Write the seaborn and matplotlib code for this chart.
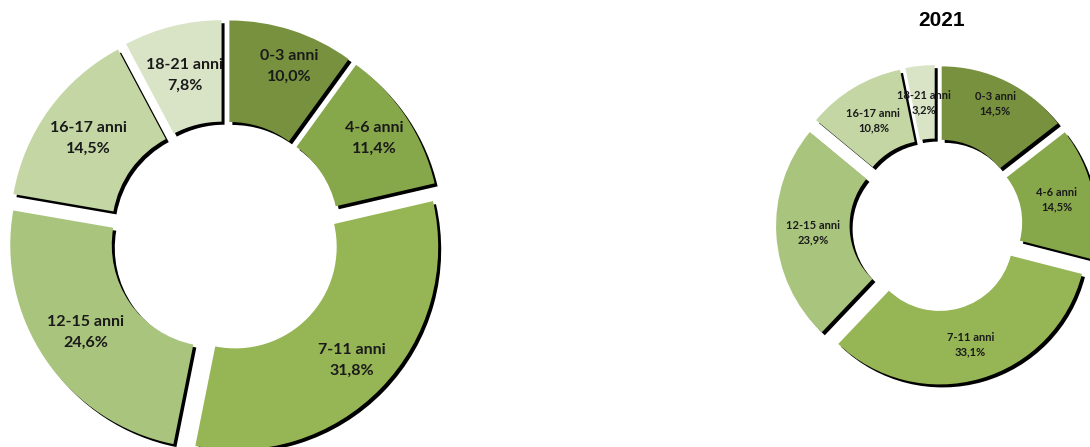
import math
import matplotlib
matplotlib.use("Agg")
import matplotlib.pyplot as plt
import seaborn as sns

# ---- data ----
categories = ["0-3 anni", "4-6 anni", "7-11 anni", "12-15 anni", "16-17 anni", "18-21 anni"]
values_left = [10.0, 11.4, 31.8, 24.6, 14.5, 7.8]
values_2021 = [14.5, 14.5, 33.1, 23.9, 10.8, 3.2]
title_right = "2021"

colors_hex = ["#77913F", "#87A84A", "#96B554", "#A9C47D", "#C3D6A4", "#D9E4C6"]

# label placement (fraction of radius, angular nudge in degrees) per wedge
label_dist_left = [0.83, 0.81, 0.80, 0.76, 0.76, 0.75]
label_nudge_left = [-3, 0, 0, 0, 0, 0]
label_dist_right = [0.83, 0.75, 0.76, 0.75, 0.74, 0.75]
label_nudge_right = [0, 0, 0, 0, 0, 0]

sns.set_style("white")
plt.rcParams["font.family"] = ["Lato", "DejaVu Sans"]
palette = sns.color_palette(colors_hex)

W, H = 1090, 447
fig = plt.figure(figsize=(W / 100, H / 100), dpi=100)
ax = fig.add_axes([0, 0, 1, 1])


def fmt(v):
    return f"{v:.1f}%".replace(".", ",")


def donut(vals, center, radius, explode_frac, fontsize, ldist, lnudge, lspacing, shadow_off=3):
    labels = [f"{c}\n{fmt(v)}" for c, v in zip(categories, vals)]
    # matplotlib's explode offset is in data units, so scale by radius
    explode = [explode_frac * radius] * len(vals)
    width = radius * 0.5
    # shadow
    ax.pie(vals, explode=explode, startangle=90, counterclock=False,
           center=(center[0] + shadow_off, center[1] - shadow_off), radius=radius,
           colors=["black"] * len(vals),
           wedgeprops=dict(width=width, linewidth=0))
    wedges, texts = ax.pie(vals, labels=labels, explode=explode, startangle=90,
                           counterclock=False, center=center, radius=radius,
                           colors=palette, labeldistance=0.77,
                           wedgeprops=dict(width=width, linewidth=0),
                           textprops=dict(ha="center", va="center",
                                          multialignment="center",
                                          fontsize=fontsize, fontweight="bold",
                                          color="#1a1a1a", linespacing=lspacing))
    for w, t, d, n in zip(wedges, texts, ldist, lnudge):
        th = math.radians(0.5 * (w.theta1 + w.theta2) + n)
        cx, cy = w.center
        t.set_position((cx + d * radius * math.cos(th), cy + d * radius * math.sin(th)))


donut(values_left, center=(225, H - 237), radius=203, explode_frac=0.07,
      fontsize=11.5, ldist=label_dist_left, lnudge=label_nudge_left, lspacing=1.6)
donut(values_2021, center=(936, H - 225), radius=147, explode_frac=0.088,
      fontsize=8, ldist=label_dist_right, lnudge=label_nudge_right, lspacing=1.35)

ax.text(942, H - 20, title_right, ha="center", va="center", fontsize=15,
        fontweight="bold", family=["Liberation Sans", "DejaVu Sans"], color="black")

ax.set_xlim(0, W)
ax.set_ylim(0, H)
ax.set_aspect("equal")
ax.axis("off")

fig.savefig("out.png", dpi=100, facecolor="white")
